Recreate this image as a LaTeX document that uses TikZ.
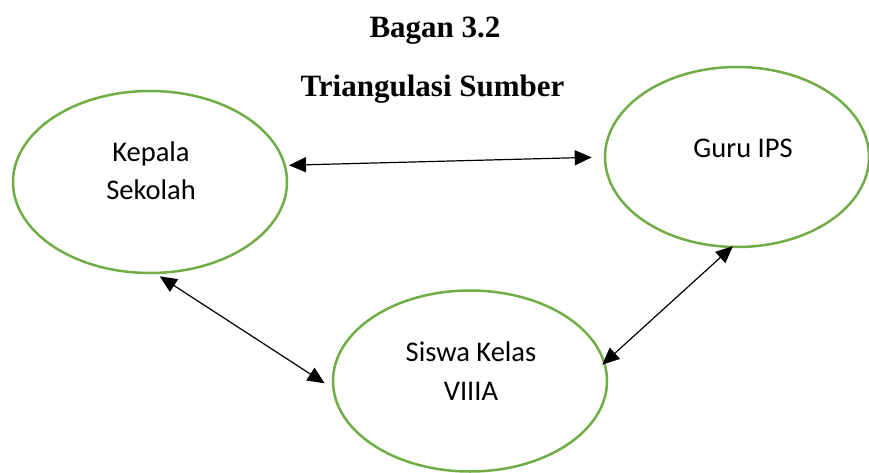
\documentclass[tikz,border=0pt]{standalone}
\usepackage{fontspec}
\setmainfont{Liberation Serif}
\newfontfamily\calibri{Carlito}
\usetikzlibrary{positioning,shapes.geometric,arrows.meta}
\definecolor{hijau}{RGB}{112,173,71}

\begin{document}
\begin{tikzpicture}[x=1pt,y=-1pt,
   elips/.style={ellipse,draw=hijau,line width=2.5pt,inner sep=0pt},
   isi/.style={font=\calibri\fontsize{28.5}{38.5}\selectfont,align=center,anchor=base,inner sep=0pt},
   judul/.style={font=\fontsize{31}{36}\selectfont\bfseries,anchor=base,inner sep=0pt},
   panah/.style={{Triangle[length=17pt,width=15pt]}-{Triangle[length=17pt,width=15pt]},line width=1.2pt,black}]
	\useasboundingbox (0,0) rectangle (869,473);
	% judul
	\node[judul] (bagan) at (435,38) {Bagan 3.2};
	\node[judul] (tri) at (432.5,97) {Triangulasi Sumber};
	% sumber data
	\node[elips,minimum width=274pt,minimum height=182pt] (kepala) at (150,182) {};
	\node[elips,minimum width=264pt,minimum height=180pt] (guru) at (737,157) {};
	\node[elips,minimum width=274pt,minimum height=181pt] (siswa) at (470,381) {};
	\node[isi] (tkepala) at (151,200) {Kepala\\Sekolah};
	\node[isi] (tguru) at (743,158) {Guru IPS};
	\node[isi] (tsiswa) at (471,400) {Siswa Kelas\\VIIIA};
	% panah
	\draw[panah,shorten <=3pt,shorten >=12pt] (kepala.7) -- (guru.180);
	\draw[panah,shorten <=4pt,shorten >=9pt] (kepala.-86) -- (siswa.183);
	\draw[panah,shorten <=-4pt,shorten >=-3pt] (siswa.8) -- (guru.-94);
\end{tikzpicture}
\end{document}
